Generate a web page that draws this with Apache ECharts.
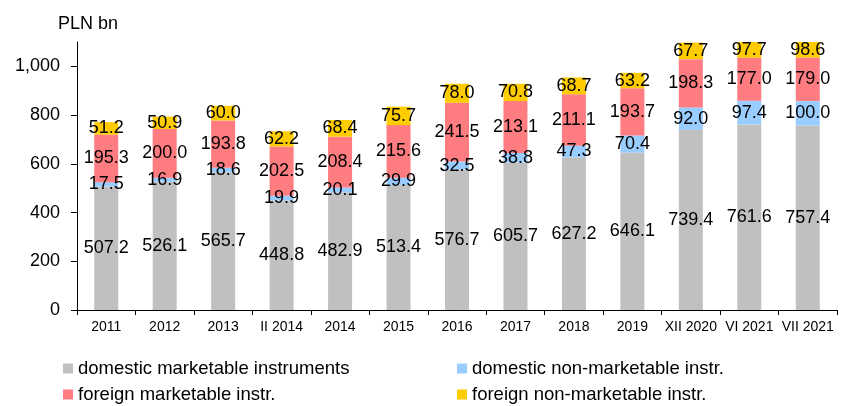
<!DOCTYPE html>
<html>
<head>
<meta charset="utf-8">
<script src="https://cdn.jsdelivr.net/npm/echarts@6/dist/echarts.min.js"></script>
<style>
  html, body { margin: 0; padding: 0; background: #fff; }
  #chart { width: 843px; height: 406px; }
</style>
</head>
<body>
<div id="chart"></div>
<script>
const categories = ['2011', '2012', '2013', 'II 2014', '2014', '2015', '2016', '2017', '2018', '2019', 'XII 2020', 'VI 2021', 'VII 2021']
const domesticMarketable = [507.2, 526.1, 565.7, 448.8, 482.9, 513.4, 576.7, 605.7, 627.2, 646.1, 739.4, 761.6, 757.4]
const domesticNonMarketable = [17.5, 16.9, 18.6, 19.9, 20.1, 29.9, 32.5, 38.8, 47.3, 70.4, 92.0, 97.4, 100.0]
const foreignMarketable = [195.3, 200.0, 193.8, 202.5, 208.4, 215.6, 241.5, 213.1, 211.1, 193.7, 198.3, 177.0, 179.0]
const foreignNonMarketable = [51.2, 50.9, 60.0, 62.2, 68.4, 75.7, 78.0, 70.8, 68.7, 63.2, 67.7, 97.7, 98.6]
const yTicks = [0, 200, 400, 600, 800, 1000]

const FONT = '"Liberation Sans", Arial, sans-serif'

const chart = echarts.init(document.getElementById('chart'))

const makeSeries = (name, data, color) => ({
  name,
  type: 'bar',
  stack: 'total',
  data,
  barWidth: 24,
  itemStyle: { color },
  label: {
    show: true,
    position: 'inside',
    color: '#000',
    fontFamily: FONT,
    fontSize: 18,
    formatter: (p) => p.value.toFixed(1),
  },
})

// one legend per entry so the 2x2 grid sits exactly where the original has it
const makeLegend = (name, left, top) => ({
  data: [name],
  left,
  top,
  itemWidth: 10,
  itemHeight: 10,
  icon: 'rect',
  padding: 0,
  textStyle: { fontFamily: FONT, fontSize: 18.5, color: '#000' },
})

chart.setOption({
  animation: false,
  textStyle: { fontFamily: FONT },
  grid: { left: 77, right: 6, top: 42, bottom: 96 },
  title: {
    text: 'PLN bn',
    left: 53,
    top: 10,
    textStyle: { fontFamily: FONT, fontSize: 18, fontWeight: 'normal', color: '#000' },
  },
  legend: [
    makeLegend('domestic marketable instruments', 63, 359),
    makeLegend('domestic non-marketable instr.', 457, 359),
    makeLegend('foreign marketable instr.', 63, 385),
    makeLegend('foreign non-marketable instr.', 457, 385),
  ],
  xAxis: {
    type: 'category',
    data: categories,
    axisLine: { lineStyle: { color: '#000', width: 1 } },
    axisTick: { show: true, length: 5, lineStyle: { color: '#000' } },
    axisLabel: { color: '#000', fontFamily: FONT, fontSize: 14, margin: 10, interval: 0 },
  },
  yAxis: {
    type: 'value',
    min: 0,
    max: 1100,
    interval: 200,
    axisLine: { show: true, lineStyle: { color: '#000', width: 1 } },
    axisTick: { show: true, length: 6, customValues: yTicks, lineStyle: { color: '#000' } },
    axisLabel: {
      color: '#000',
      fontFamily: FONT,
      fontSize: 18,
      margin: 17,
      customValues: yTicks,
      formatter: (v) => v.toLocaleString('en-US'),
    },
    splitLine: { show: false },
  },
  series: [
    makeSeries('domestic marketable instruments', domesticMarketable, '#C0C0C0'),
    makeSeries('domestic non-marketable instr.', domesticNonMarketable, '#99CCFF'),
    makeSeries('foreign marketable instr.', foreignMarketable, '#FF7C80'),
    makeSeries('foreign non-marketable instr.', foreignNonMarketable, '#FFCC00'),
  ],
})
</script>
</body>
</html>
